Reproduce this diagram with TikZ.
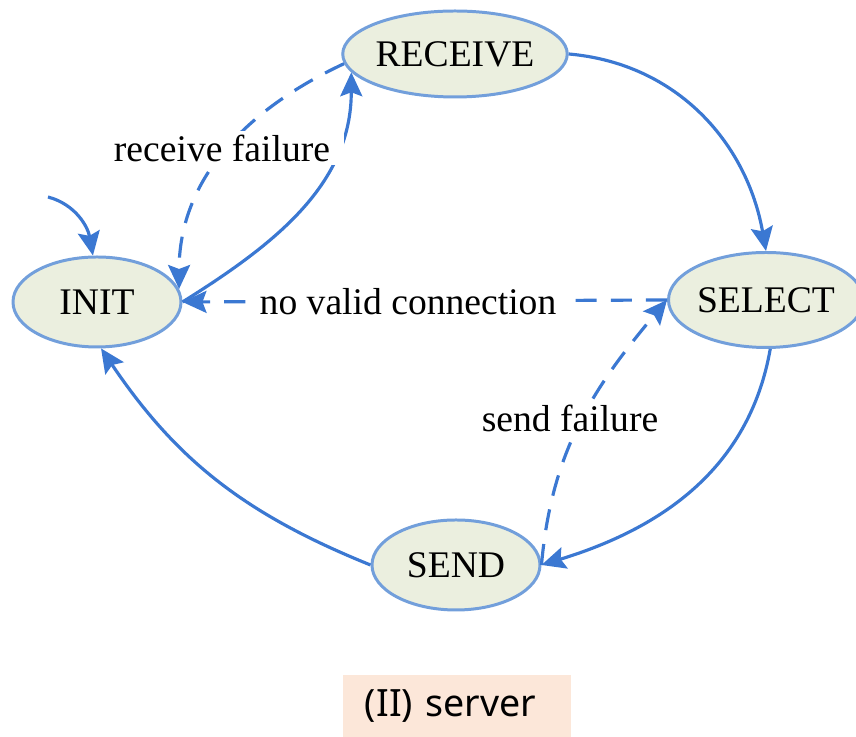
\documentclass[tikz,border=0pt]{standalone}
\usepackage{fontspec}
\setmainfont{Liberation Serif}
\newfontfamily\capfont{Noto Sans}
\usetikzlibrary{positioning,arrows.meta,shapes.geometric}
\definecolor{edgeblue}{HTML}{3B78D2}
\definecolor{stateline}{HTML}{729FDB}
\definecolor{statefill}{HTML}{EBEFDF}
\definecolor{capfill}{HTML}{FCE7D9}
\begin{document}
\begin{tikzpicture}[>={Stealth[length=2.4mm,width=2.2mm,inset=0.4mm]},
  font=\fontsize{10.7}{13}\selectfont,
  state/.style={ellipse,draw=stateline,line width=0.85pt,fill=statefill,inner sep=0pt},
  trans/.style={->,draw=edgeblue,line width=0.9pt},
  fail/.style={trans,dash pattern=on 6pt off 4pt},
  lbl/.style={fill=white,inner xsep=4pt,inner ysep=1pt}]
\useasboundingbox (0,0) rectangle (8.56,-7.37);
\node[state,minimum width=1.68cm,minimum height=0.90cm] (init) at (0.97,-3.02) {INIT};
\node[state,minimum width=2.14cm,minimum height=0.86cm] (receive) at (4.55,-0.54) {RECEIVE};
\node[state,minimum width=1.88cm,minimum height=0.95cm] (select) at (7.66,-3.00) {SELECT};
\node[state,minimum width=1.68cm,minimum height=0.90cm] (send) at (4.56,-5.65) {SEND};
\coordinate (start) at (0.48,-1.97);
\draw[trans] (start) to[out=-15,in=100] (init.95);
\draw[trans] (init.east) to[out=32,in=-90] (receive.190);
\draw[fail] (receive.185) to[out=205,in=90] (init.9);
\draw[trans] (receive.east) to[out=-5,in=100] (select.north);
\draw[fail] (select.west) -- (init.east);
\draw[trans] (select.-85) to[out=-100,in=17] (send.east);
\draw[fail] (send.east) to[out=85,in=-130] (select.west);
\draw[trans] (send.west) to[out=158,in=-56] (init.-85);
\node[lbl] (recvfail) at (2.22,-1.48) {receive failure};
\node[lbl] (novalid) at (4.08,-3.02) {no valid connection};
\node[lbl] (sendfail) at (5.70,-4.18) {send failure};
\node[fill=capfill,text width=1.84cm,inner xsep=0.22cm,minimum height=0.62cm,align=left,font=\capfont\fontsize{10.7}{13}\selectfont] (caption) at (4.57,-7.06) {(II) server};
\end{tikzpicture}
\end{document}
